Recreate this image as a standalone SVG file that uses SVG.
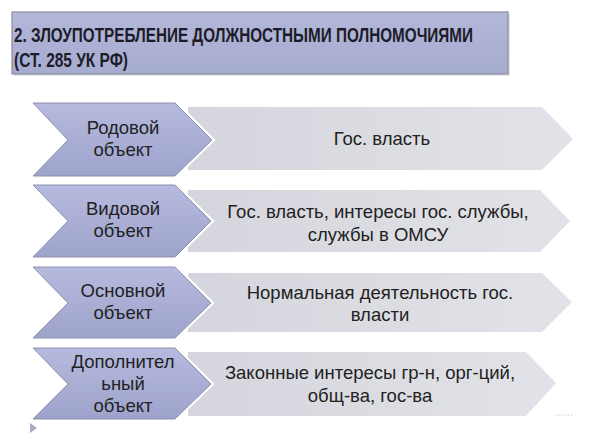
<svg xmlns="http://www.w3.org/2000/svg" width="600" height="448" viewBox="0 0 600 448">
<defs>
<linearGradient id="gTitle" x1="0" y1="0" x2="0" y2="1">
<stop offset="0" stop-color="#b3b7d9"/>
<stop offset="1" stop-color="#a6abd0"/>
</linearGradient>
<linearGradient id="gChev" x1="0" y1="0" x2="0" y2="1">
<stop offset="0" stop-color="#b6bade"/>
<stop offset="1" stop-color="#9ea3cc"/>
</linearGradient>
<linearGradient id="gGray" x1="0" y1="0" x2="1" y2="0">
<stop offset="0" stop-color="#d5d6dd"/>
<stop offset="1" stop-color="#e2e3e8"/>
</linearGradient>
<style>
.title{font-family:"Liberation Sans",Arial,sans-serif;font-weight:bold;font-size:19.5px;fill:#1c1c28}
.lbl{font-family:"Liberation Sans",Arial,sans-serif;font-size:18.5px;fill:#222;text-anchor:middle}
.chev{fill:url(#gChev);stroke:#8d91ad;stroke-width:1}
.chevw{fill:none;stroke:#ffffff;stroke-width:5;stroke-linejoin:miter}
.gray{fill:url(#gGray);stroke:none}
</style>
</defs>
<rect width="600" height="448" fill="#ffffff"/>
<g id="title">
<rect x="14" y="14" width="496" height="62" fill="#c9cad6" opacity="0.5"/>
<rect x="12" y="12" width="496" height="62" fill="url(#gTitle)" stroke="#8b8c9b" stroke-width="1.2"/>
<text class="title" x="14" y="42" textLength="459" lengthAdjust="spacingAndGlyphs">2. ЗЛОУПОТРЕБЛЕНИЕ ДОЛЖНОСТНЫМИ ПОЛНОМОЧИЯМИ</text>
<text class="title" x="14" y="67" textLength="114" lengthAdjust="spacingAndGlyphs">(СТ. 285 УК РФ)</text>
</g>
<g id="row1">
<path class="gray" d="M188,107 L542,107 L573,139 L542,170 L188,170 Z"/>
<path class="chevw" d="M33,103 L175,103 L212,140 L175,176 L33,176 L68,140 Z"/>
<path class="chev" d="M33,103 L175,103 L212,140 L175,176 L33,176 L68,140 Z"/>
<text class="lbl" x="123" y="134">Родовой</text>
<text class="lbl" x="123" y="156">объект</text>
<text class="lbl" x="382" y="145">Гос. власть</text>
</g>
<g id="row2">
<path class="gray" d="M188,190 L540,190 L570,221 L540,252 L188,252 Z"/>
<path class="chevw" d="M33,185 L175,185 L211,221 L175,257 L33,257 L68,221 Z"/>
<path class="chev" d="M33,185 L175,185 L211,221 L175,257 L33,257 L68,221 Z"/>
<text class="lbl" x="123" y="215">Видовой</text>
<text class="lbl" x="123" y="237">объект</text>
<text class="lbl" x="378" y="218">Гос. власть, интересы гос. службы,</text>
<text class="lbl" x="378" y="241">службы в ОМСУ</text>
</g>
<g id="row3">
<path class="gray" d="M188,273 L542,273 L572,302 L542,332 L188,332 Z"/>
<path class="chevw" d="M33,267 L175,267 L211,303 L175,338 L33,338 L68,303 Z"/>
<path class="chev" d="M33,267 L175,267 L211,303 L175,338 L33,338 L68,303 Z"/>
<text class="lbl" x="123" y="297">Основной</text>
<text class="lbl" x="123" y="319">объект</text>
<text class="lbl" x="380" y="299">Нормальная деятельность гос.</text>
<text class="lbl" x="380" y="321">власти</text>
</g>
<g id="row4">
<path class="gray" d="M188,352 L526,352 L556,383 L526,416 L188,416 Z"/>
<path class="chevw" d="M33,348 L175,348 L211,384 L175,419 L33,419 L68,384 Z"/>
<path class="chev" d="M33,348 L175,348 L211,384 L175,419 L33,419 L68,384 Z"/>
<text class="lbl" x="123" y="368">Дополнител</text>
<text class="lbl" x="123" y="390">ьный</text>
<text class="lbl" x="123" y="412">объект</text>
<text class="lbl" x="370" y="379">Законные интересы гр-н, орг-ций,</text>
<text class="lbl" x="370" y="402">общ-ва, гос-ва</text>
</g>
<g id="connectors">
<line x1="556" y1="415" x2="573" y2="415" stroke="#c8c9d2" stroke-width="1" stroke-dasharray="1.5,1.5"/>
<path d="M30,423 L37,428 L30,433 Z" fill="#a5acc0"/>
</g>
</svg>
